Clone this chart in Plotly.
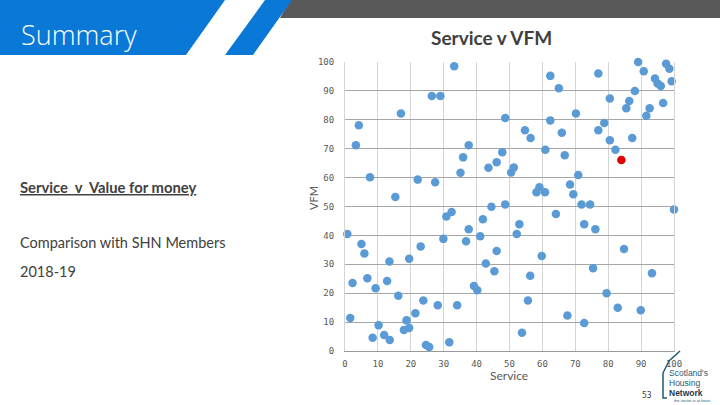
import plotly.graph_objects as go

# Service score (x) and VFM score (y) for SHN members
service = [3.3, 4.2, 7.6, 17.0, 15.3, 22.1, 26.4, 29.0, 27.4, 33.2, 35.1, 35.9, 37.6, 43.6, 46.1,
           44.5, 47.8, 48.7, 50.5, 51.3, 48.7, 54.7, 56.4, 60.9, 62.4, 65.0, 62.4, 65.9, 66.8, 70.2,
           70.9, 68.4, 59.1, 58.2, 60.8, 69.4, 71.9, 74.5, 77.0, 80.5, 78.8, 77.0, 80.5, 82.2,
           89.1, 90.8, 88.1, 86.4, 85.5, 87.3, 92.6, 91.6, 94.2, 95.0, 96.0, 97.6, 98.6, 99.3, 96.7, 100.0,
           0.7, 5.0, 5.9, 2.3, 6.8, 1.6, 9.3, 10.2, 8.4, 11.9, 13.6, 12.8, 13.5, 16.2, 19.5, 18.7, 17.9,
           19.5, 21.4, 23.0, 23.8, 24.6, 25.6, 28.2, 31.7, 29.9, 30.8, 32.4, 34.1, 37.6, 36.8, 41.1, 41.9,
           39.2, 40.2, 42.8, 45.4, 46.1, 53.0, 52.2, 64.1, 59.8, 56.3, 55.6, 53.8, 67.6, 72.7, 72.7, 76.1,
           75.4, 79.5, 82.9, 89.9, 84.8, 93.3]
vfm = [71.2, 78.1, 60.1, 82.2, 53.3, 59.3, 88.2, 88.2, 58.4, 98.5, 61.7, 67.0, 71.2, 63.4, 65.3,
       49.9, 68.8, 80.6, 61.8, 63.5, 50.7, 76.4, 73.7, 69.6, 95.2, 90.9, 79.8, 75.5, 67.7, 82.2,
       60.9, 57.6, 56.7, 54.9, 54.9, 54.2, 50.7, 50.7, 96.0, 87.4, 78.9, 76.4, 72.9, 69.6,
       100.0, 96.8, 90.0, 86.5, 84.0, 73.7, 84.0, 81.4, 94.3, 92.6, 91.7, 99.4, 97.7, 93.3, 85.8, 49.0,
       40.5, 37.0, 33.7, 23.5, 25.2, 11.4, 21.7, 8.9, 4.6, 5.5, 3.8, 24.2, 31.0, 19.1, 31.9, 10.6, 7.3,
       8.0, 13.1, 36.2, 17.5, 2.1, 1.4, 15.8, 3.0, 38.8, 46.5, 48.1, 15.8, 42.1, 38.0, 39.7, 45.6,
       22.5, 21.0, 30.3, 27.6, 34.6, 43.9, 40.5, 47.4, 32.9, 26.0, 17.5, 6.3, 12.3, 9.7, 43.9, 42.1,
       28.6, 20.0, 15.0, 14.1, 35.3, 26.9]
# Highlighted member
own_service = [84.0]
own_vfm = [66.1]

tick_vals = [0, 10, 20, 30, 40, 50, 60, 70, 80, 90, 100]
tick_text = ["0", "10", "20", "30", "40", "50", "60", "70", "80", "90", "100"]

W, H = 720, 405
ML, MR, MT, MB = 345, 46, 62, 54
PW, PH = W - ML - MR, H - MT - MB


def px(x):
    return (x - ML) / PW


def py(y):
    return (H - MB - y) / PH


def path(points, close=True):
    s = "M " + " L ".join(f"{px(a):.5f} {py(b):.5f}" for a, b in points)
    return s + (" Z" if close else "")


fig = go.Figure()
fig.add_trace(go.Scatter(x=service, y=vfm, mode="markers",
                         marker=dict(color="#5B9BD5", size=8.5),
                         cliponaxis=False, showlegend=False, hoverinfo="skip"))
fig.add_trace(go.Scatter(x=own_service, y=own_vfm, mode="markers",
                         marker=dict(color="#E00000", size=8.5),
                         cliponaxis=False, showlegend=False, hoverinfo="skip"))

axis_font = dict(family="DejaVu Sans Mono", size=9, color="#595959")
fig.update_xaxes(range=[0, 100], tickvals=tick_vals, ticktext=tick_text,
                 showgrid=True, gridcolor="#D4D4D4", gridwidth=1, zeroline=False,
                 showline=True, linecolor="#9A9A9A", linewidth=1, mirror=False,
                 tickfont=axis_font, ticks="", ticklabelstandoff=4)
fig.update_yaxes(range=[0, 100], tickvals=tick_vals, ticktext=tick_text,
                 showgrid=True, gridcolor="#A6A6A6", gridwidth=1, zeroline=False,
                 showline=True, linecolor="#D4D4D4", linewidth=1, mirror=True,
                 tickfont=axis_font, ticks="", ticklabelstandoff=8)

shapes = [
    dict(type="path", path=path([(290, 0), (720, 0), (720, 18), (280, 18)]),
         fillcolor="#595959", line=dict(width=0)),
    dict(type="path", path=path([(0, 0), (225, 0), (186, 55), (0, 55)]),
         fillcolor="#0A78D7", line=dict(width=0)),
    dict(type="path", path=path([(265, 0), (292, 0), (253, 55), (225, 55)]),
         fillcolor="#0A78D7", line=dict(width=0)),
    dict(type="path", path=path([(663, 373), (663, 398), (667, 398)], close=False),
         line=dict(color="#1F5A78", width=1.5)),
    dict(type="path", path=path([(663, 373), (669, 361), (680, 351)], close=False),
         line=dict(color="#1F5A78", width=1.5)),
]
for s in shapes:
    s.update(xref="paper", yref="paper", layer="above")

annotations = [
    dict(text="Summary", x=px(19), y=py(35), xanchor="left", yanchor="middle",
         font=dict(family="Open Sans", size=27, color="white", weight=300)),
    dict(text="<b>Service v VFM</b>", x=px(491), y=py(37), xanchor="center", yanchor="middle",
         font=dict(family="Lato", size=19, color="#404040")),
    dict(text="<b><u>Service  v  Value for money</u></b>", x=px(18), y=py(187), xanchor="left", yanchor="middle",
         font=dict(family="Lato", size=14.8, color="#404040")),
    dict(text="Comparison with SHN Members", x=px(18), y=py(242), xanchor="left", yanchor="middle",
         font=dict(family="Lato", size=14.5, color="#404040")),
    dict(text="2018-19", x=px(18), y=py(271), xanchor="left", yanchor="middle",
         font=dict(family="Lato", size=14.5, color="#404040")),
    dict(text="Service", x=px(509), y=py(375), xanchor="center", yanchor="middle",
         font=dict(family="Lato", size=12, color="#595959")),
    dict(text="VFM", x=px(313), y=py(198), xanchor="center", yanchor="middle", textangle=-90,
         font=dict(family="Lato", size=11, color="#595959")),
    dict(text="Scotland's", x=px(667), y=py(373), xanchor="left", yanchor="middle",
         font=dict(family="Liberation Sans", size=8.5, color="#1F5A78")),
    dict(text="Housing", x=px(667), y=py(383), xanchor="left", yanchor="middle",
         font=dict(family="Liberation Sans", size=8.5, color="#1F5A78")),
    dict(text="<b>Network</b>", x=px(667), y=py(393), xanchor="left", yanchor="middle",
         font=dict(family="Liberation Sans", size=8.5, color="#1F3A4A")),
    dict(text="the sector is at heart", x=px(672), y=py(400), xanchor="left", yanchor="middle",
         font=dict(family="Liberation Sans", size=4, color="#1F5A78")),
    dict(text="53", x=px(647), y=py(395), xanchor="center", yanchor="middle",
         font=dict(family="DejaVu Sans Mono", size=8, color="#404040")),
]
for a in annotations:
    a.update(xref="paper", yref="paper", showarrow=False)

fig.update_layout(
    width=W, height=H,
    margin=dict(l=ML, r=MR, t=MT, b=MB),
    paper_bgcolor="white", plot_bgcolor="white",
    shapes=shapes, annotations=annotations,
)

fig.write_html("out.html", config={"displayModeBar": False})
